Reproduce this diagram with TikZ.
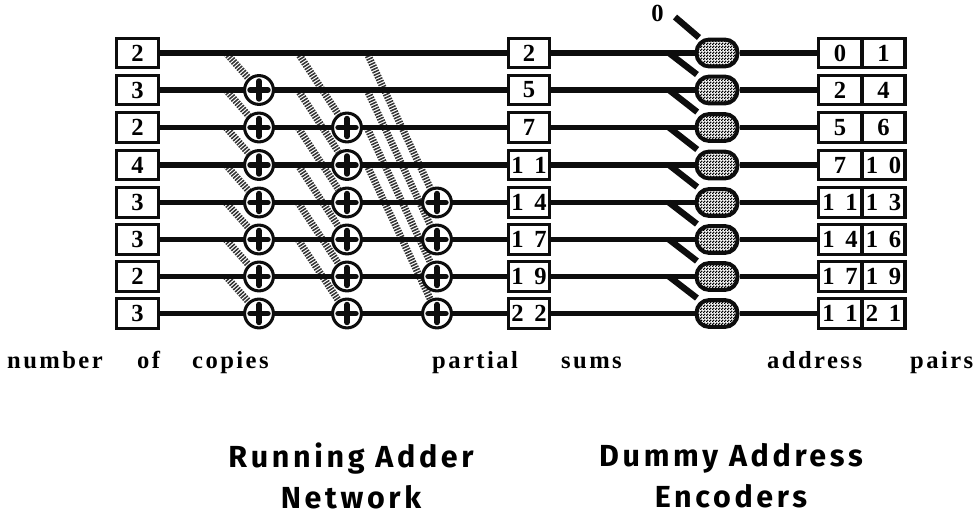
\documentclass[tikz,border=0pt]{standalone}
\usepackage{fontspec}
\setmainfont{Liberation Serif}
\newfontfamily\labelfont[LetterSpace=10]{Liberation Serif}
\newfontfamily\titlefont[LetterSpace=12]{Fira Sans}
\usetikzlibrary{patterns}
\usetikzlibrary{arrows,shapes,positioning,backgrounds}

\pgfdeclarepatternformonly{encdots}{\pgfqpoint{0pt}{0pt}}{\pgfqpoint{2.6pt}{2.6pt}}{\pgfqpoint{2.6pt}{2.6pt}}{
  \pgfpathrectangle{\pgfqpoint{0pt}{0pt}}{\pgfqpoint{1.45pt}{1.45pt}}
  \pgfpathrectangle{\pgfqpoint{1.3pt}{1.3pt}}{\pgfqpoint{1.3pt}{1.3pt}}
  \pgfusepath{fill}
}

\definecolor{wirecol}{gray}{0.05}
\newcommand{\dd}{\hspace{9pt}}
\tikzset{
  wire/.style={line width=4.5pt, draw=wirecol},
  feed/.style={line width=5.4pt, draw=wirecol},
  carry/.style={line width=6pt, draw=black!80, dash pattern=on 1.3pt off 1.1pt},
  numbox/.style={draw=wirecol, line width=2.8pt, fill=white, inner sep=0pt, minimum height=25pt, font=\bfseries\fontsize{21}{21}\selectfont},
  copybox/.style={numbox, minimum width=35.5pt},
  pairbox/.style={numbox, minimum width=36.5pt},
  adder/.style={circle, draw=wirecol, line width=2.6pt, fill=white, minimum size=24.6pt, inner sep=0pt,
    path picture={\draw [line width=5pt, line cap=round, draw=wirecol]
      ([xshift=-7.5pt]path picture bounding box.center) -- ([xshift=7.5pt]path picture bounding box.center)
      ([yshift=-7.5pt]path picture bounding box.center) -- ([yshift=7.5pt]path picture bounding box.center);}},
  encoder/.style={rounded corners=11pt, draw=wirecol, line width=3.4pt, preaction={fill=white}, pattern=encdots, pattern color=black, minimum width=35pt, minimum height=23pt, inner sep=0pt},
  caption/.style={font=\labelfont\bfseries\fontsize{21}{21}\selectfont, anchor=base west},
  title/.style={font=\titlefont\bfseries\fontsize{26}{35}\selectfont, align=center}
}

\begin{document}
\begin{tikzpicture}[x=0.03cm, y=-0.03cm]
\useasboundingbox (0,0) rectangle (976,516);

% row heights
\def\rowy{{0,53,90,127.5,165,202.5,239.5,276.5,313.5}}

% boxes and encoders, one row at a time
\foreach \i/\v/\s/\p/\q in {1/2/2/0/1, 2/3/5/2/4, 3/2/7/5/6, 4/4/1\dd1/7/1\dd0,
    5/3/1\dd4/1\dd1/1\dd3, 6/3/1\dd7/1\dd4/1\dd6, 7/2/1\dd9/1\dd7/1\dd9, 8/3/2\dd2/1\dd1/2\dd1} {
  \pgfmathsetmacro{\yy}{\rowy[\i]}
  \node [copybox] (copy\i) at (137.5,\yy) {\v};
  \node [copybox] (sum\i) at (529,\yy) {\s};
  \node [encoder] (enc\i) at (717,\yy) {};
  \node [pairbox] (pa\i) at (840,\yy) {\p};
  \node [pairbox] (pb\i) at (883.5,\yy) {\q};
  \coordinate (rowa\i) at (226,\yy);
  \coordinate (rowb\i) at (298,\yy);
  \coordinate (rowc\i) at (367,\yy);
  \coordinate (rowd\i) at (669,\yy);
}

% three columns of adders
\foreach \i in {2,...,8} {
  \pgfmathsetmacro{\yy}{\rowy[\i]}
  \node [adder] (adda\i) at (259,\yy) {};
}
\foreach \i in {3,...,8} {
  \pgfmathsetmacro{\yy}{\rowy[\i]}
  \node [adder] (addb\i) at (347,\yy) {};
}
\foreach \i in {5,...,8} {
  \pgfmathsetmacro{\yy}{\rowy[\i]}
  \node [adder] (addc\i) at (437,\yy) {};
}

\node (zero) at (657.5,13) {\bfseries\fontsize{21}{21}\selectfont 0};
\coordinate (zerofoot) at (675,17);

% everything that joins them goes underneath
\begin{scope}[on background layer]
\foreach \i [evaluate=\i as \j using int(\i+1)] in {1,...,7}
  \draw [carry] (rowa\i) -- (adda\j);
\foreach \i [evaluate=\i as \j using int(\i+2)] in {1,...,6}
  \draw [carry] (rowb\i) -- (addb\j);
\foreach \i [evaluate=\i as \j using int(\i+4)] in {1,...,4}
  \draw [carry] (rowc\i) -- (addc\j);
\foreach \i in {1,...,8} {
  \draw [wire] (copy\i) -- (sum\i);
  \draw [wire] (sum\i) -- (enc\i);
  \draw [wire] (enc\i) -- (pa\i);
}
\draw [feed] (zerofoot) -- (enc1);
\foreach \i [evaluate=\i as \j using int(\i+1)] in {1,...,7}
  \draw [feed] (rowd\i) -- (enc\j);
\end{scope}

\node [caption] (lblnum) at (3,369) {number};
\node [caption] (lblof) at (133,369) {of};
\node [caption] (lblcop) at (188,369) {copies};
\node [caption] (lblpar) at (428,369) {partial};
\node [caption] (lblsum) at (557,369) {sums};
\node [caption] (lbladd) at (763,369) {address};
\node [caption] (lblpai) at (906,369) {pairs};

\node [title] (adderlbl) at (351,476) {Running Adder\\Network};
\node [title] (enclbl) at (731,476) {Dummy Address\\Encoders};
\end{tikzpicture}
\end{document}
